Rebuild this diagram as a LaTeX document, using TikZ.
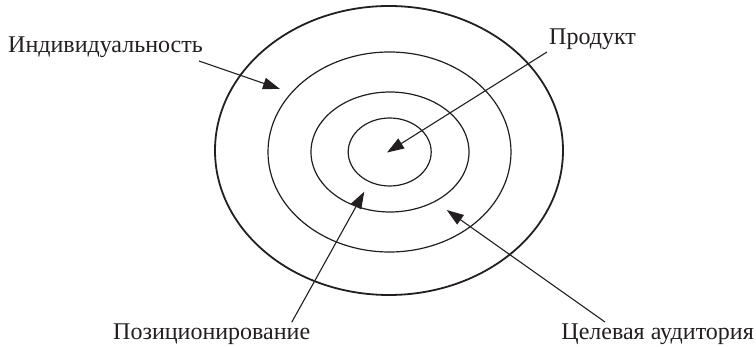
\documentclass[tikz,border=0pt]{standalone}
\usepackage{fontspec}
\setmainfont{Liberation Serif}
\usetikzlibrary{arrows.meta}
\definecolor{ink}{HTML}{231F20}
\begin{document}
\begin{tikzpicture}[x=1pt,y=-1pt,
  lbl/.style={inner sep=0pt, text=ink, font=\fontsize{24}{28}\selectfont},
  ring/.style={draw=ink, line width=1.2pt},
  outerring/.style={draw=ink, line width=1.8pt},
  pointer/.style={draw=ink, line width=1.1pt, -{Triangle[length=17pt,width=11.5pt]}}]
\useasboundingbox (0,0) rectangle (756,347);
% rings
\draw[outerring] (389,150.5) ellipse [x radius=174pt, y radius=144.5pt];
\draw[ring] (389.5,152) ellipse [x radius=121.5pt, y radius=100pt];
\draw[ring] (390,152) ellipse [x radius=79pt, y radius=60pt];
\draw[ring] (389.7,152) ellipse [x radius=41.5pt, y radius=34pt];
% labels
\node[lbl, anchor=base west] (ind) at (8,53) {Индивидуальность};
\node[lbl, anchor=base west] (prod) at (549,45) {Продукт};
\node[lbl, anchor=base west] (pos) at (113,340) {Позиционирование};
\node[lbl, anchor=base east] (aud) at (754,340) {Целевая аудитория};
% pointer ends
\coordinate (indS) at (199,61);
\coordinate (indT) at (280,89);
\coordinate (prodS) at (547,52);
\coordinate (prodT) at (387,152.5);
\coordinate (posS) at (291.7,322.3);
\coordinate (posT) at (364.3,191.7);
\coordinate (audS) at (605,322);
\coordinate (audT) at (446.7,210);
\draw[pointer] (indS) -- (indT);
\draw[pointer] (prodS) -- (prodT);
\draw[pointer] (posS) -- (posT);
\draw[pointer] (audS) -- (audT);
\end{tikzpicture}
\end{document}
